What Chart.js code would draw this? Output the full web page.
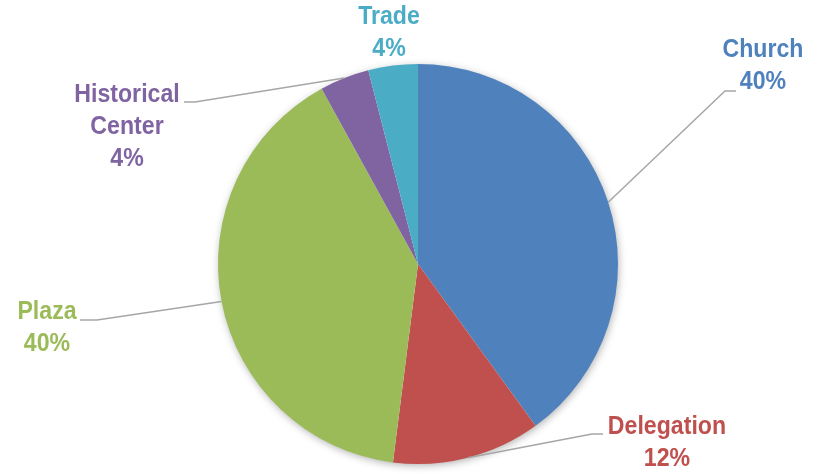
<!DOCTYPE html>
<html>
<head>
<meta charset="utf-8">
<script src="https://cdn.jsdelivr.net/npm/chart.js@4"></script>
<style>
  html, body { margin: 0; padding: 0; background: #fff; }
  #wrap { width: 820px; height: 474px; }
</style>
</head>
<body>
<div id="wrap"><canvas id="pie" width="820" height="474"></canvas></div>
<script>
// data
const categories = ['Church', 'Delegation', 'Plaza', 'Historical Center', 'Trade'];
const shares = [40, 12, 40, 4, 4];
const labelLines = [['Church'], ['Delegation'], ['Plaza'], ['Historical', 'Center'], ['Trade']];
const sliceColors = ['#4F81BD', '#C0504D', '#9BBB59', '#8064A2', '#4BACC6'];

// label placement, relative to the pie centre (text centre of first line, leader elbow)
const labelLayout = [
  { dx: 345, dy: -214, elbow: [307, -173], end: [318, -173] },
  { dx: 249, dy: 163, elbow: [174, 170], end: [185, 170] },
  { dx: -371, dy: 48, elbow: [-321, 56], end: [-338, 56] },
  { dx: -291, dy: -169, elbow: [-223, -162], end: [-234, -162] },
  { dx: -29, dy: -247, elbow: null, end: null }
];

const FONT = 'bold 26px "Liberation Sans", Arial, sans-serif';
const SQUEEZE = 0.89;   // narrow face look
const LINE_H = 32;

const shadowPlugin = {
  id: 'pieShadow',
  beforeDatasetsDraw(chart) {
    const arc = chart.getDatasetMeta(0).data[0];
    if (!arc) return;
    const { x, y, outerRadius } = arc.getProps(['x', 'y', 'outerRadius'], true);
    const ctx = chart.ctx;
    ctx.save();
    ctx.shadowColor = 'rgba(0,0,0,0.35)';
    ctx.shadowBlur = 8;
    ctx.shadowOffsetX = 1;
    ctx.shadowOffsetY = 2;
    ctx.fillStyle = '#fff';
    ctx.beginPath();
    ctx.arc(x, y, outerRadius - 1, 0, Math.PI * 2);
    ctx.fill();
    ctx.restore();
  }
};

const labelPlugin = {
  id: 'sliceLabels',
  afterDatasetsDraw(chart) {
    const ctx = chart.ctx;
    const meta = chart.getDatasetMeta(0);
    const total = shares.reduce((a, b) => a + b, 0);
    meta.data.forEach((arc, i) => {
      const p = arc.getProps(['x', 'y', 'startAngle', 'endAngle', 'outerRadius'], true);
      const mid = (p.startAngle + p.endAngle) / 2;
      const L = labelLayout[i];
      ctx.save();
      if (L.elbow) {
        const sx = p.x + Math.cos(mid) * p.outerRadius;
        const sy = p.y + Math.sin(mid) * p.outerRadius;
        ctx.strokeStyle = '#A6A6A6';
        ctx.lineWidth = 1.5;
        ctx.beginPath();
        ctx.moveTo(sx, sy);
        ctx.lineTo(p.x + L.elbow[0], p.y + L.elbow[1]);
        ctx.lineTo(p.x + L.end[0], p.y + L.end[1]);
        ctx.stroke();
      }
      ctx.font = FONT;
      ctx.fillStyle = sliceColors[i];
      ctx.textAlign = 'center';
      ctx.textBaseline = 'middle';
      const lines = labelLines[i].concat([Math.round(shares[i] / total * 100) + '%']);
      lines.forEach((t, k) => {
        ctx.save();
        ctx.translate(p.x + L.dx, p.y + L.dy + k * LINE_H);
        ctx.scale(SQUEEZE, 1);
        ctx.fillText(t, 0, 0);
        ctx.restore();
      });
      ctx.restore();
    });
  }
};

new Chart(document.getElementById('pie'), {
  type: 'pie',
  data: {
    labels: categories,
    datasets: [{
      data: shares,
      backgroundColor: sliceColors,
      borderWidth: 0
    }]
  },
  options: {
    responsive: false,
    animation: false,
    layout: { padding: { top: 64, bottom: 10, left: 16, right: 0 } },
    plugins: {
      legend: { display: false },
      tooltip: { enabled: false }
    }
  },
  plugins: [shadowPlugin, labelPlugin]
});
</script>
</body>
</html>
